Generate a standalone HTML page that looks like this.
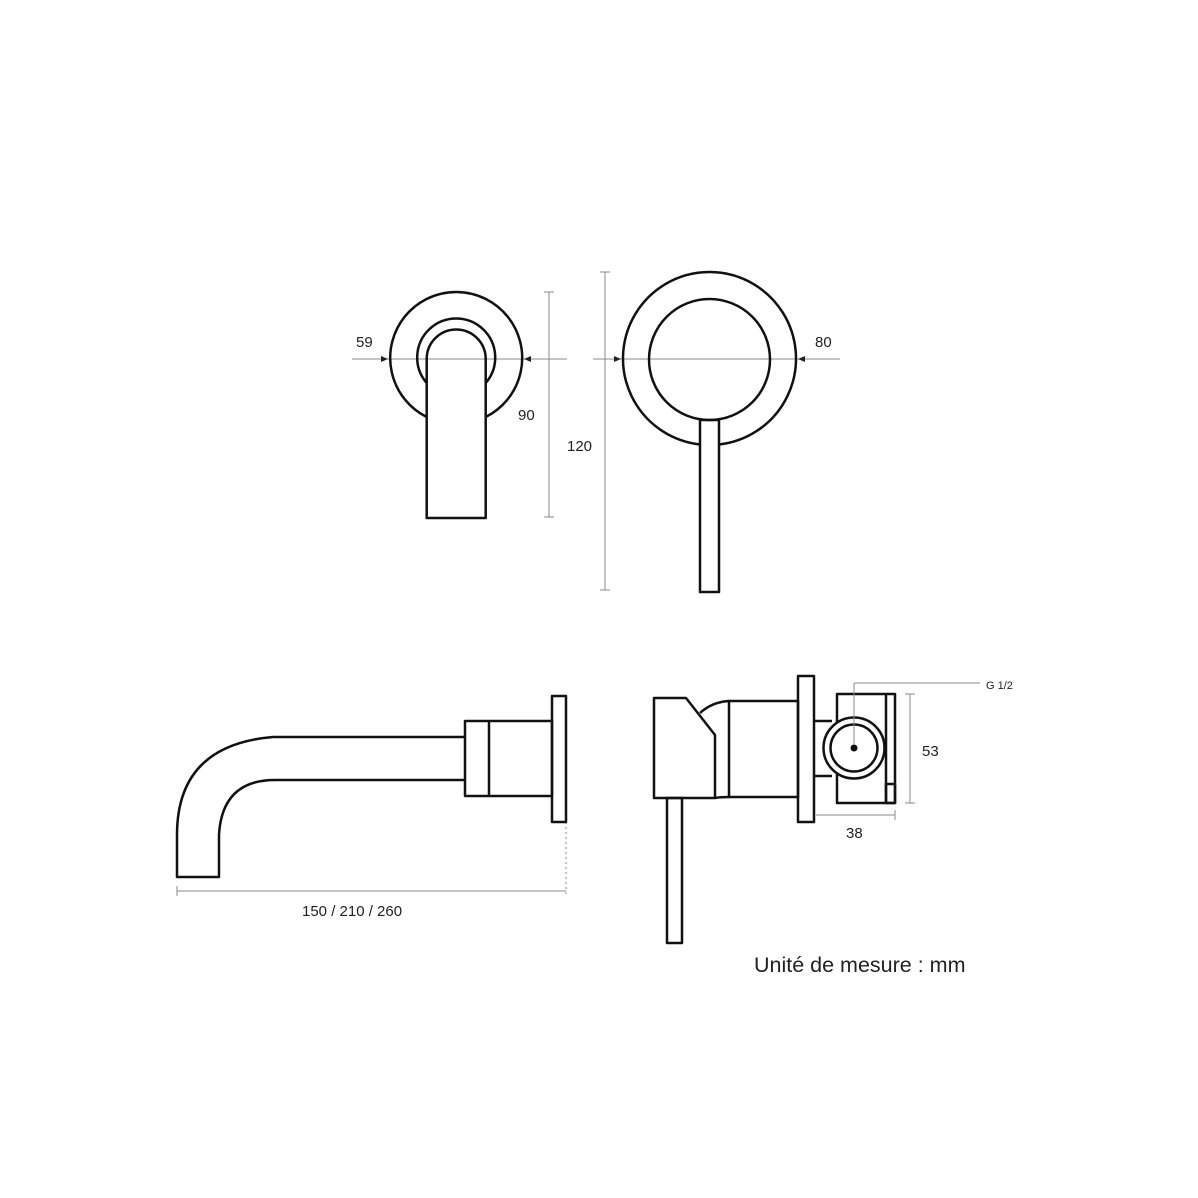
<!DOCTYPE html>
<html><head><meta charset="utf-8"><style>
html,body{margin:0;padding:0;background:#fff;}
svg{display:block;}
text{font-family:"Liberation Sans",sans-serif;fill:#222;}
</style></head><body>
<svg width="1198" height="1198" viewBox="0 0 1198 1198" xmlns="http://www.w3.org/2000/svg">
<defs>
<marker id="ar" markerWidth="8" markerHeight="8" refX="7" refY="4" orient="auto" markerUnits="userSpaceOnUse">
<path d="M0,1 L7,4 L0,7 z" fill="#222"/></marker>
</defs>
<g stroke="#888" stroke-width="1" fill="none">
<line x1="352" y1="359" x2="388" y2="359" marker-end="url(#ar)"/>
<line x1="388" y1="359" x2="567" y2="359"/>
<line x1="567" y1="359" x2="524" y2="359" marker-end="url(#ar)"/>
<line x1="549" y1="292" x2="549" y2="517"/>
<line x1="544" y1="292" x2="554" y2="292"/><line x1="544" y1="517" x2="554" y2="517"/>
<line x1="593" y1="359" x2="621" y2="359" marker-end="url(#ar)"/>
<line x1="621" y1="359" x2="840" y2="359"/>
<line x1="840" y1="359" x2="798" y2="359" marker-end="url(#ar)"/>
<line x1="605" y1="272" x2="605" y2="590"/>
<line x1="600" y1="272" x2="610" y2="272"/><line x1="600" y1="590" x2="610" y2="590"/>
<line x1="177" y1="891" x2="566" y2="891"/>
<line x1="177" y1="886" x2="177" y2="896"/>
<line x1="566" y1="822" x2="566" y2="896" stroke-dasharray="2,3"/>
<line x1="854" y1="748" x2="854" y2="683"/>
<line x1="854" y1="683" x2="980" y2="683"/>
<line x1="910" y1="694" x2="910" y2="803"/>
<line x1="905" y1="694" x2="915" y2="694"/><line x1="905" y1="803" x2="915" y2="803"/>
<line x1="816" y1="815" x2="895" y2="815"/>
<line x1="895" y1="810" x2="895" y2="820"/>
</g>
<g stroke="#111" stroke-width="2.5" fill="none" stroke-linejoin="round">
<path d="M426.7,417 A66,66 0 1 1 485.7,417"/>
<path d="M426.7,383 A39,39 0 1 1 485.7,383"/>
<path d="M426.7,518 L426.7,359 A29.5,29.5 0 0 1 485.7,359 L485.7,518 Z"/>
<path d="M700,444.5 A86.5,86.5 0 1 1 719,444.5"/>
<circle cx="709.5" cy="359.5" r="60.5"/>
<rect x="700" y="420" width="19" height="172"/>
<rect x="552" y="696" width="14" height="126"/>
<rect x="465" y="721" width="87" height="75"/>
<line x1="489" y1="721" x2="489" y2="796"/>
<path d="M465,737 L273,737 Q177,745 177,835 L177,877 L219,877 L219,835 Q222,780 275,780 L465,780"/>
<path d="M654,698 L686,698 L715,735 L715,798 L654,798 Z"/>
<path d="M700,713 Q712,702 729,701"/>
<path d="M715,798 Q720,797 729,797"/>
<rect x="729" y="701" width="69" height="96"/>
<rect x="798" y="676" width="16" height="146"/>
<rect x="667" y="798" width="15" height="145"/>
<rect x="837" y="694" width="58" height="109"/>
<line x1="886" y1="694" x2="886" y2="803"/>
<rect x="886" y="784" width="9" height="19"/>
<path d="M814,721 L832,721 M814,776 L832,776"/>
<circle cx="854" cy="748" r="30.5" fill="#fff"/>
<circle cx="854" cy="748" r="23.5"/>
</g>
<circle cx="854" cy="748" r="3.5" fill="#111"/>
<line x1="854" y1="744" x2="854" y2="683" stroke="#888" stroke-width="1"/>
<text x="356" y="347" font-size="15">59</text>
<text x="518" y="420" font-size="15">90</text>
<text x="567" y="451" font-size="15">120</text>
<text x="815" y="347" font-size="15">80</text>
<text x="302" y="916" font-size="15">150 / 210 / 260</text>
<text x="986" y="689" font-size="11">G 1/2</text>
<text x="922" y="756" font-size="15">53</text>
<text x="846" y="838" font-size="15">38</text>
<text x="754" y="972" font-size="21.5">Unité de mesure : mm</text>
</svg>
</body></html>
